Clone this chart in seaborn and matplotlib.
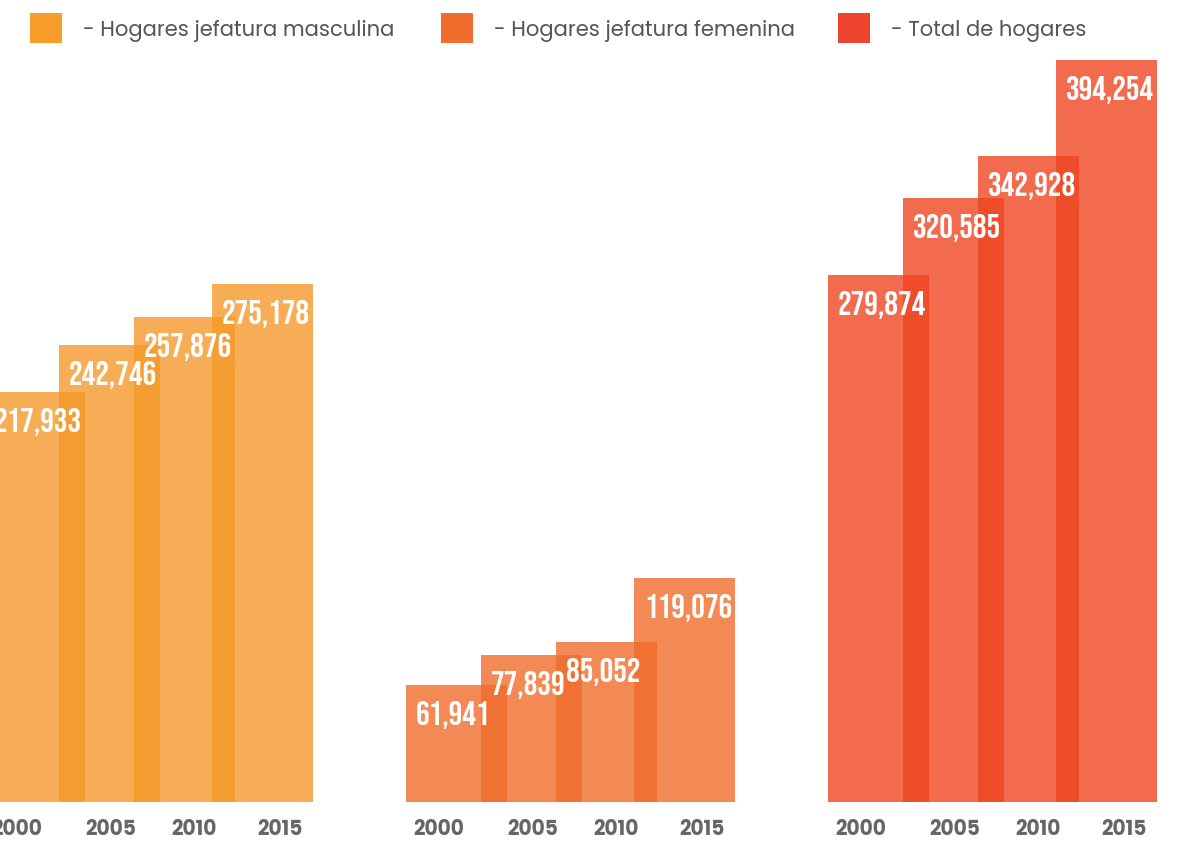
import pandas as pd
import matplotlib
matplotlib.use("Agg")
import matplotlib.pyplot as plt
from matplotlib.patches import Rectangle
from matplotlib import font_manager as fm
import seaborn as sns

# ========== DATA ==========
groups = ["- Hogares jefatura masculina", "- Hogares jefatura femenina", "- Total de hogares"]
years = ["2000", "2005", "2010", "2015"]
masculina = [217933, 242746, 257876, 275178]
femenina = [61941, 77839, 85052, 119076]
total = [279874, 320585, 342928, 394254]
bar_colors = ["#F6992A", "#F06D2A", "#EF4622"]
legend_colors = ["#F99D2A", "#F26D2D", "#EF4430"]

# ========== LAYOUT (pixel units on x) ==========
W, H = 1178, 841
BASE = 802                       # baseline pixel row
YMAX = 426000                    # value at top of axes
group_start = [-16, 406, 828]    # left edge of first bar in each group
bar_off = [0, 75, 150, 228]      # left-edge offsets of the bars inside a group
bar_w = 101
tick_off = [33, 127, 210, 296]   # year label centres relative to group start

rows = []
for g, (name, vals) in enumerate(zip(groups, [masculina, femenina, total])):
    for i, (yr, v) in enumerate(zip(years, vals)):
        rows.append({"group": name, "year": yr, "value": v,
                     "x": group_start[g] + bar_off[i] + bar_w / 2})
df = pd.DataFrame(rows)

# ========== FONTS ==========
names = {f.name for f in fm.fontManager.ttflist}
def pick(*fams):
    for f in fams:
        if f in names:
            return f
    return "DejaVu Sans"
num_font = pick("Bebas Neue", "Oswald", "Barlow Condensed")
txt_font = pick("Poppins", "Lato", "Open Sans")

sns.set_theme(style="white")
plt.rcParams["font.family"] = [txt_font, "DejaVu Sans"]

fig = plt.figure(figsize=(W / 100, H / 100), dpi=100)
ax = fig.add_axes([0, (H - BASE) / H, 1, BASE / H])

min_gap = df["x"].sort_values().diff().min()
sns.barplot(data=df, x="x", y="value", hue="group", palette=bar_colors,
            native_scale=True, dodge=False, width=bar_w / min_gap,
            saturation=1, alpha=0.8, linewidth=0, legend=False, ax=ax)

px = YMAX / BASE  # value per pixel
for _, r in df.iterrows():
    ax.text(r["x"] - bar_w / 2 + 10, r["value"] - 30 * px, f"{r['value']:,}",
            color="white", fontsize=24.5, family=num_font,
            ha="left", va="center")

ax.set_xlim(0, W)
ax.set_ylim(0, YMAX)
ticks = [gs + t for gs in group_start for t in tick_off]
ax.set_xticks(ticks)
ax.set_xticklabels(years * 3, fontsize=14.5, fontweight="bold", color="#666666")
ax.tick_params(axis="x", length=0, pad=12.5)
ax.set_yticks([])
ax.set_xlabel("")
ax.set_ylabel("")
sns.despine(ax=ax, left=True, bottom=True)

# ========== LEGEND ==========
leg_sq = [30, 441, 838]
leg_tx = [83, 494, 891]
for c, sx, tx, name in zip(legend_colors, leg_sq, leg_tx, groups):
    fig.patches.append(Rectangle((sx / W, 1 - 43 / H), 32 / W, 30 / H,
                                 transform=fig.transFigure, color=c, lw=0))
    fig.text(tx / W, 1 - 31.5 / H, name, fontsize=15.2, color="#555555",
             ha="left", va="center")

fig.savefig("out.png", dpi=100)
